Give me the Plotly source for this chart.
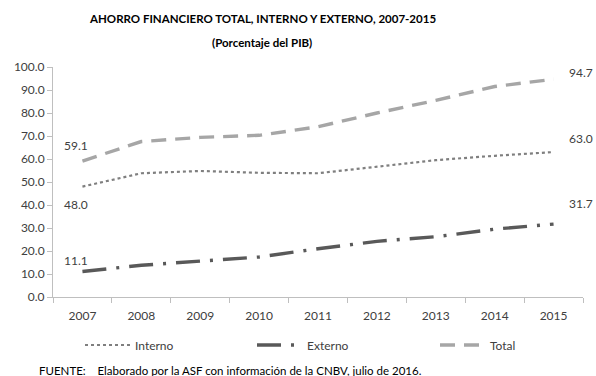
import plotly.graph_objects as go

# Ahorro financiero (porcentaje del PIB)
years = ["2007", "2008", "2009", "2010", "2011", "2012", "2013", "2014", "2015"]
interno = [48.0, 53.8, 54.8, 54.0, 53.8, 56.5, 59.5, 61.4, 63.0]
externo = [11.1, 13.8, 15.6, 17.4, 21.0, 24.2, 26.2, 29.5, 31.7]
total = [59.1, 67.6, 69.4, 70.3, 74.0, 80.0, 85.5, 91.5, 94.7]
y_ticks = [0, 10, 20, 30, 40, 50, 60, 70, 80, 90, 100]

FONT = "Lato"
TXT = "#404040"
L, R, T, B = 53, 13, 67, 79
PW, PH = 596 - L - R, 376 - T - B

fig = go.Figure()
fig.add_trace(go.Scatter(x=years, y=interno, name="Interno", mode="lines", legend="legend",
                         line=dict(color="#7f7f7f", width=2.2, dash="dot")))
fig.add_trace(go.Scatter(x=years, y=externo, name="Externo", mode="lines", legend="legend2",
                         line=dict(color="#595959", width=3.4, dash="24px,10px,3px,10px")))
fig.add_trace(go.Scatter(x=years, y=total, name="Total", mode="lines", legend="legend3",
                         line=dict(color="#a6a6a6", width=3.4, dash="15px,9px")))

# value labels at both ends of each series (x given as category index)
first, last = 0, len(years) - 1
for series, dy_first, dy_last in [(interno, -18, 14), (externo, 11, 21), (total, 16, 7)]:
    fig.add_annotation(x=first, y=series[first], text=f"{series[first]:.1f}",
                       showarrow=False, xanchor="center", yanchor="middle",
                       xshift=-6, yshift=dy_first,
                       font=dict(family=FONT, size=12, color=TXT))
    fig.add_annotation(x=last, y=series[last], text=f"{series[last]:.1f}",
                       showarrow=False, xanchor="left", yanchor="middle",
                       xshift=13, yshift=dy_last,
                       font=dict(family=FONT, size=12, color=TXT))

title_x = (262 - L) / PW
fig.add_annotation(text="<b>AHORRO FINANCIERO TOTAL, INTERNO Y EXTERNO, 2007-2015</b>",
                   xref="paper", yref="paper", x=title_x, y=1, showarrow=False,
                   xanchor="center", yanchor="middle", yshift=49,
                   font=dict(family=FONT, size=11.5, color="#000000"))
fig.add_annotation(text="<b>(Porcentaje del PIB)</b>", xref="paper", yref="paper",
                   x=title_x, y=1, showarrow=False, xanchor="center", yanchor="middle",
                   yshift=25, font=dict(family=FONT, size=11.5, color="#000000"))
fig.add_annotation(text="FUENTE:    Elaborado por la ASF con información de la CNBV, julio de 2016.",
                   xref="paper", yref="paper", x=0, y=0, showarrow=False,
                   xanchor="left", yanchor="middle", xshift=-16, yshift=-73,
                   font=dict(family=FONT, size=11.5, color="#000000"))

legend_y = (297 - 345) / PH


def legend_at(px):
    return dict(orientation="h", x=(px - L) / PW, y=legend_y, xanchor="left",
                yanchor="middle", bgcolor="rgba(0,0,0,0)", itemwidth=45,
                font=dict(family=FONT, size=12, color=TXT))


fig.update_layout(
    width=596, height=376,
    margin=dict(l=L, r=R, t=T, b=B, autoexpand=False),
    paper_bgcolor="white", plot_bgcolor="white",
    font=dict(family=FONT, size=12, color=TXT),
    showlegend=True,
    legend=legend_at(80),
    legend2=legend_at(252),
    legend3=legend_at(435),
)

fig.update_xaxes(type="category", range=[-0.5, len(years) - 0.5],
                 showline=True, linecolor="#bfbfbf", linewidth=1,
                 ticks="outside", tickson="boundaries", ticklen=5, tickcolor="#bfbfbf",
                 showgrid=False, tickangle=0, automargin=False, ticklabelstandoff=8,
                 tickfont=dict(family=FONT, size=12, color=TXT))
fig.update_yaxes(range=[0, 100], tickvals=y_ticks, ticktext=[f"{v:.1f}" for v in y_ticks],
                 showline=True, linecolor="#bfbfbf", linewidth=1,
                 ticks="outside", ticklen=5, tickcolor="#bfbfbf",
                 showgrid=False, zeroline=False, automargin=False,
                 tickfont=dict(family=FONT, size=12, color=TXT))

fig.write_html("out.html")
